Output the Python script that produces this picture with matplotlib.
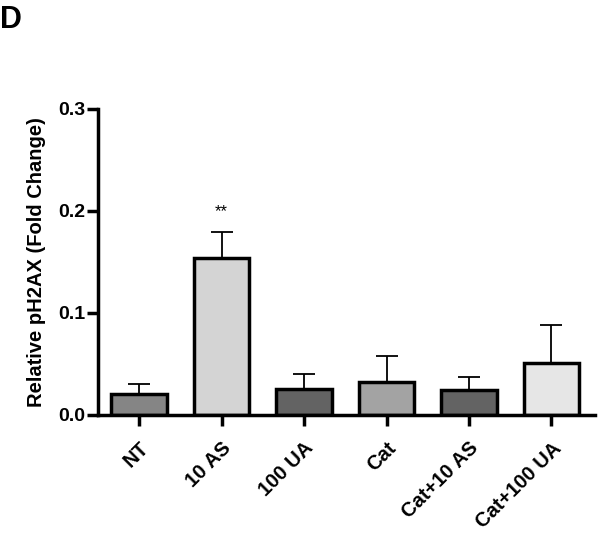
import matplotlib
matplotlib.use("Agg")
import matplotlib.pyplot as plt
import numpy as np

categories = ["NT", "10 AS", "100 UA", "Cat", "Cat+10 AS", "Cat+100 UA"]
means = [0.020, 0.154, 0.025, 0.032, 0.024, 0.051]
errors = [0.010, 0.025, 0.015, 0.026, 0.013, 0.037]
colors = ["#858585", "#d4d4d4", "#636363", "#a3a3a3", "#636363", "#e6e6e6"]
yticks = [0.0, 0.1, 0.2, 0.3]

plt.rcParams['font.family'] = ['Liberation Sans', 'DejaVu Sans']
fig = plt.figure(figsize=(6.0, 5.36), dpi=100)
ax = fig.add_axes([0.163, 0.226, 0.829, 0.571])

x = np.arange(len(categories))
ax.bar(x, means, width=0.67, color=colors, edgecolor="black", linewidth=2.5, zorder=2)
ax.errorbar(x, means, yerr=[np.zeros(len(means)), errors], fmt="none",
            ecolor="black", elinewidth=1.3, capsize=8, capthick=1.3, zorder=1)
ax.text(x[1], 0.192, "**", ha="center", va="bottom", fontsize=12)

ax.set_xlim(-0.5, 5.53)
ax.set_ylim(0, 0.3)
ax.set_yticks(yticks)
ax.set_yticklabels([f"{v:.1f}" for v in yticks], fontsize=14, fontweight="bold")
ax.set_xticks(x)
ax.set_xticklabels(categories, rotation=45, ha="right", rotation_mode="anchor",
                   fontsize=14.5, fontweight="bold")
for s in ["top", "right"]:
    ax.spines[s].set_visible(False)
for s in ["left", "bottom"]:
    ax.spines[s].set_linewidth(2.5)
ax.spines["bottom"].set_zorder(3)
ax.tick_params(axis="both", direction="out", length=8, width=2.5)
ax.tick_params(axis="y", pad=1)
ax.tick_params(axis="x", pad=9)
ax.set_ylabel("Relative pH2AX (Fold Change)", fontsize=14.5, fontweight="bold", labelpad=9)

fig.text(0.0, 0.99, "D", fontsize=22, fontweight="bold", ha="left", va="top")

fig.savefig("out.png", dpi=100)
